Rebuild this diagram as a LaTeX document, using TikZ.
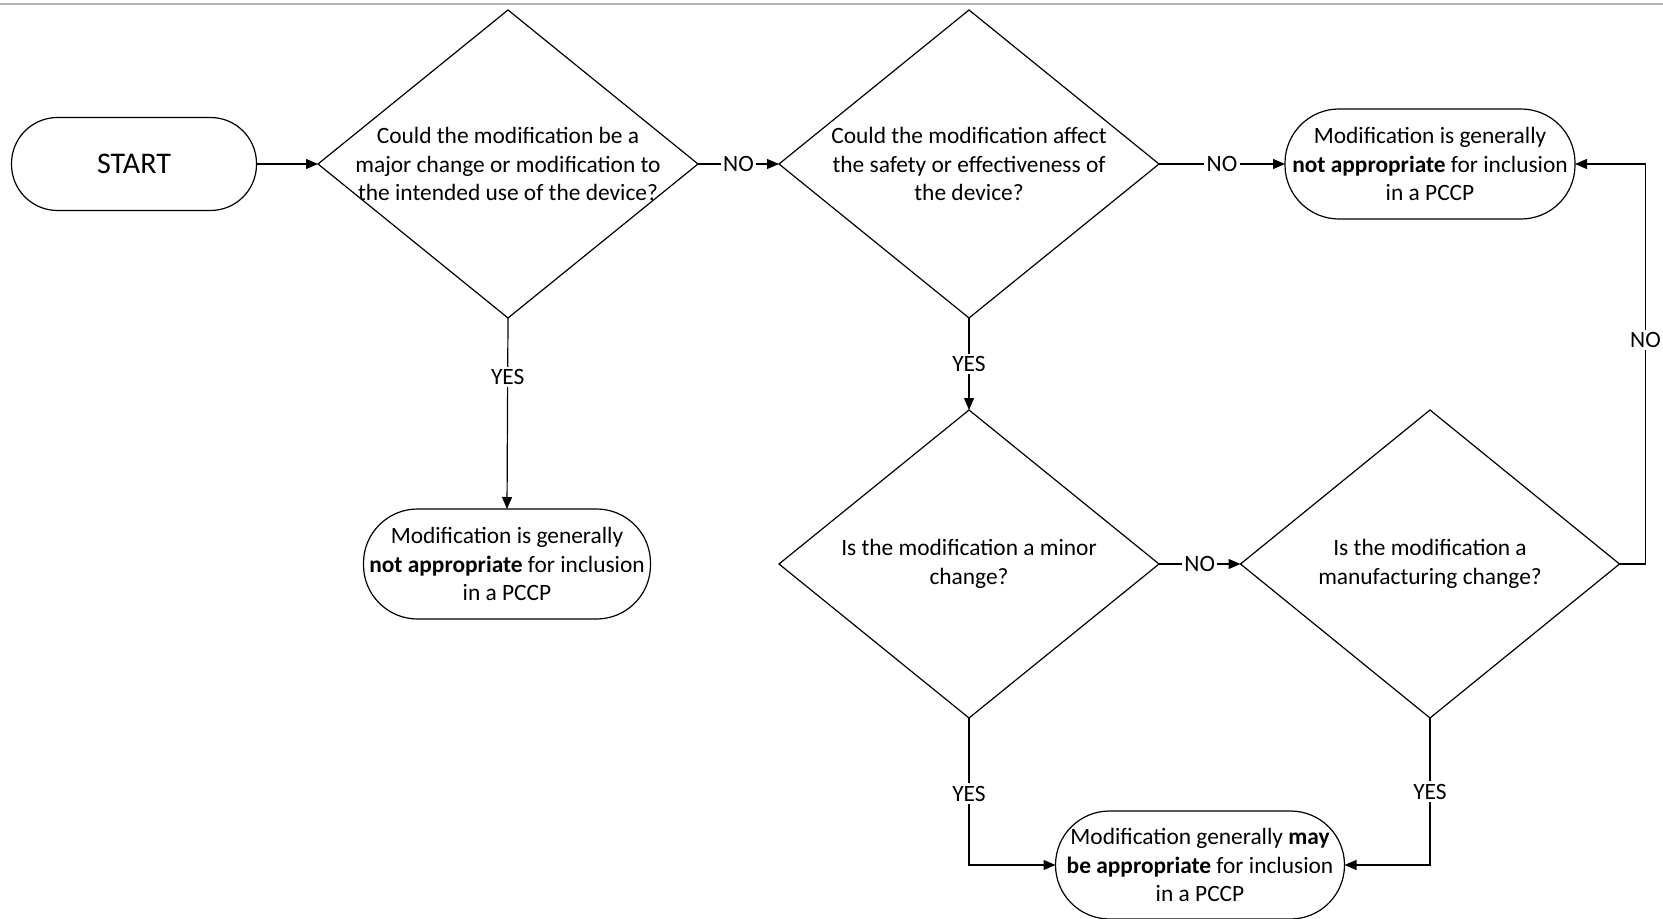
\documentclass[tikz,border=0pt]{standalone}
\usepackage{fontspec}
\setmainfont{Carlito}
\usetikzlibrary{shapes.geometric,arrows.meta}
\tikzset{
  decision/.style={diamond,draw,line width=0.6pt,minimum width=#1,minimum height=154pt,inner sep=0pt,outer sep=0pt},
  decision/.default=190pt,
  qtext/.style={align=center,font=\fontsize{11.7}{14.3}\selectfont,inner sep=0pt},
  result/.style={draw,line width=0.6pt,rounded corners=27pt,minimum width=#1,minimum height=55pt,inner sep=0pt,outer sep=0pt,
    align=center,font=\fontsize{11.7}{14.3}\selectfont},
  result/.default=145pt,
  arr/.style={-{Triangle[length=6pt,width=5pt]},line width=0.6pt},
  lbl/.style={fill=white,inner sep=1.2pt,font=\fontsize{11.7}{14}\selectfont}
}
\begin{document}
\begin{tikzpicture}[x=0.5pt,y=-0.5pt]
  \useasboundingbox (0,0) rectangle (1663,919);
  \draw[gray!60,line width=0.8pt] (0,4) -- (1663,4);
  % nodes
  \node[draw,line width=0.6pt,rounded corners=23pt,minimum width=122.5pt,minimum height=46.5pt,inner sep=0pt,outer sep=0pt,
    font=\fontsize{15}{18}\selectfont] (start) at (134,164) {START};
  \node[decision] (q1) at (508,164) {};
  \node[qtext] (q1t) at (q1) {Could the modification be a\\major change or modification to\\the intended use of the device?};
  \node[decision] (q2) at (969,164) {};
  \node[qtext] (q2t) at (q2) {Could the modification affect\\the safety or effectiveness of\\the device?};
  \node[result] (nofita) at (1430,164) {Modification is generally\\\textbf{not appropriate} for inclusion\\in a PCCP};
  \node[result=143.5pt] (nofitb) at (507,564) {Modification is generally\\\textbf{not appropriate} for inclusion\\in a PCCP};
  \node[decision] (q3) at (969,564) {};
  \node[qtext] (q3t) at (q3) {Is the modification a minor\\change?};
  \node[decision=189.5pt] (q4) at (1430,564) {};
  \node[qtext] (q4t) at (q4) {Is the modification a\\manufacturing change?};
  \node[result=144.5pt,minimum height=54pt] (mayfit) at (1200,865) {Modification generally \textbf{may}\\\textbf{be appropriate} for inclusion\\in a PCCP};
  % connectors
  \draw[arr] (start.east) -- (q1.west);
  \draw[arr] (q1.east) -- node[lbl] (no1) {NO} (q2.west);
  \draw[arr] (q2.east) -- node[lbl] (no2) {NO} (nofita.west);
  \draw[arr] (q1.south) -- node[lbl,pos=0.31] (yes1) {YES} (nofitb.north);
  \draw[arr] (q2.south) -- node[lbl,pos=0.5] (yes2) {YES} (q3.north);
  \draw[arr] (q3.east) -- node[lbl] (no3) {NO} (q4.west);
  \draw[arr] (q4.east) -- ++(26,0) |- node[lbl,pos=0.28] (no4) {NO} (nofita.east);
  \draw[arr] (q3.south) |- node[lbl,pos=0.257] (yes3) {YES} (mayfit.west);
  \draw[arr] (q4.south) |- node[lbl,pos=0.25] (yes4) {YES} (mayfit.east);
\end{tikzpicture}
\end{document}
